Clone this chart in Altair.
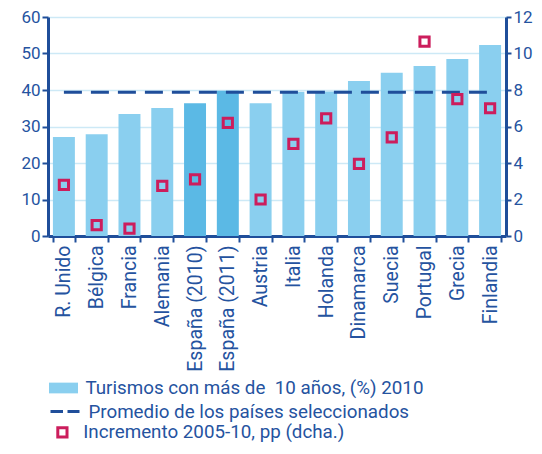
import altair as alt
import pandas as pd

paises = ["R. Unido", "Bélgica", "Francia", "Alemania", "España (2010)", "España (2011)",
          "Austria", "Italia", "Holanda", "Dinamarca", "Suecia", "Portugal", "Grecia", "Finlandia"]
turismos = [27.1, 27.9, 33.4, 35.1, 36.4, 39.8, 36.4, 39.5, 39.6, 42.5, 44.7, 46.6, 48.5, 52.3]
incremento = [2.8, 0.6, 0.4, 2.75, 3.1, 6.2, 2.0, 5.05, 6.45, 3.95, 5.4, 10.65, 7.5, 7.0]
promedio = 39.4
serie_bar = "Turismos con más de \u00a010 años, (%) 2010"
serie_rule = "Promedio de los países seleccionados"
serie_pt = "Incremento 2005-10, pp (dcha.)"
left_ticks = [0, 10, 20, 30, 40, 50, 60]
right_ticks = [0, 2, 4, 6, 8, 10, 12]

DARK = "#1F4E9A"
TEXT = "#25539F"
LIGHT = "#8ACFEF"
MID = "#5BB9E5"
RED = "#CC1D5C"
FONT = "Roboto"

df_bar = pd.DataFrame({"pais": paises, "valor": turismos, "serie": serie_bar})
df_pt = pd.DataFrame({"pais": paises, "inc": incremento, "serie": serie_pt})
df_rule = pd.DataFrame({"ini": [paises[0]], "fin": [paises[-1]], "prom": [promedio], "serie": [serie_rule]})

xscale = alt.Scale(domain=paises, paddingInner=0.33, paddingOuter=0.15)
xaxis = alt.Axis(title=None, labelAngle=-90, tickBand="extent", labelFontSize=19.5,
                 labelPadding=3, tickSize=6)

legend_common = dict(orient="none", title=None, padding=0, labelFont=FONT,
                     labelFontSize=18.8, labelColor=TEXT, labelLimit=600)

bars = alt.Chart(df_bar).mark_bar().encode(
    x=alt.X("pais:N", scale=xscale, axis=xaxis),
    y=alt.Y("valor:Q", scale=alt.Scale(domain=[0, 60], nice=False),
            axis=alt.Axis(title=None, values=left_ticks, orient="left", grid=True,
                          gridColor="#CDE9F6", gridWidth=1.5, labelPadding=2)),
    fill=alt.condition(
        alt.FieldOneOfPredicate(field="pais", oneOf=["España (2010)", "España (2011)"]),
        alt.value(MID),
        alt.Fill("serie:N", scale=alt.Scale(domain=[serie_bar], range=[LIGHT]),
                 legend=alt.Legend(legendX=1, legendY=356.5, symbolType="M-1,-0.37H1V0.37H-1Z",
                                   symbolSize=841, symbolStrokeWidth=0, labelOffset=7.4,
                                   **legend_common)),
    ),
)

rule = alt.Chart(df_rule).mark_rule(strokeWidth=3, strokeDash=[18, 9]).encode(
    x=alt.X("ini:N", scale=xscale, axis=xaxis),
    x2="fin:N",
    y=alt.Y("prom:Q", scale=alt.Scale(domain=[0, 60], nice=False), axis=None),
    stroke=alt.Stroke("serie:N", scale=alt.Scale(domain=[serie_rule], range=[DARK]),
                      legend=alt.Legend(legendX=1, legendY=378.5, symbolType="stroke",
                                        symbolSize=841, symbolStrokeWidth=3,
                                        symbolDash=[12.5, 4.5], labelOffset=7.4, **legend_common)),
)

points = alt.Chart(df_pt).mark_point(filled=False, color=RED, stroke=RED, strokeWidth=3,
                                     size=85, opacity=1).encode(
    x=alt.X("pais:N", scale=xscale, axis=xaxis),
    y=alt.Y("inc:Q", scale=alt.Scale(domain=[0, 12], nice=False),
            axis=alt.Axis(title=None, values=right_ticks, orient="right", grid=False,
                          tickSize=5, labelPadding=2)),
    shape=alt.Shape("serie:N", scale=alt.Scale(domain=[serie_pt], range=["square"]),
                    legend=alt.Legend(legendX=5, legendY=406, symbolSize=85,
                                      symbolStrokeColor=RED, symbolStrokeWidth=3,
                                      symbolFillColor="transparent", labelOffset=11.4,
                                      **legend_common)),
)

chart = alt.layer(bars, rule, points).resolve_scale(y="independent").properties(
    width=458, height=219,
    autosize=alt.AutoSizeParams(type="none"),
    padding={"left": 40, "top": 9, "right": 28, "bottom": 208},
).configure_view(stroke=None).configure_axis(
    domainColor=DARK, domainWidth=3, tickColor=DARK, tickWidth=2, tickSize=6,
    labelFont=FONT, labelColor=TEXT, labelFontSize=17,
)

chart.save("out.html", embed_options={"renderer": "svg", "actions": False})
